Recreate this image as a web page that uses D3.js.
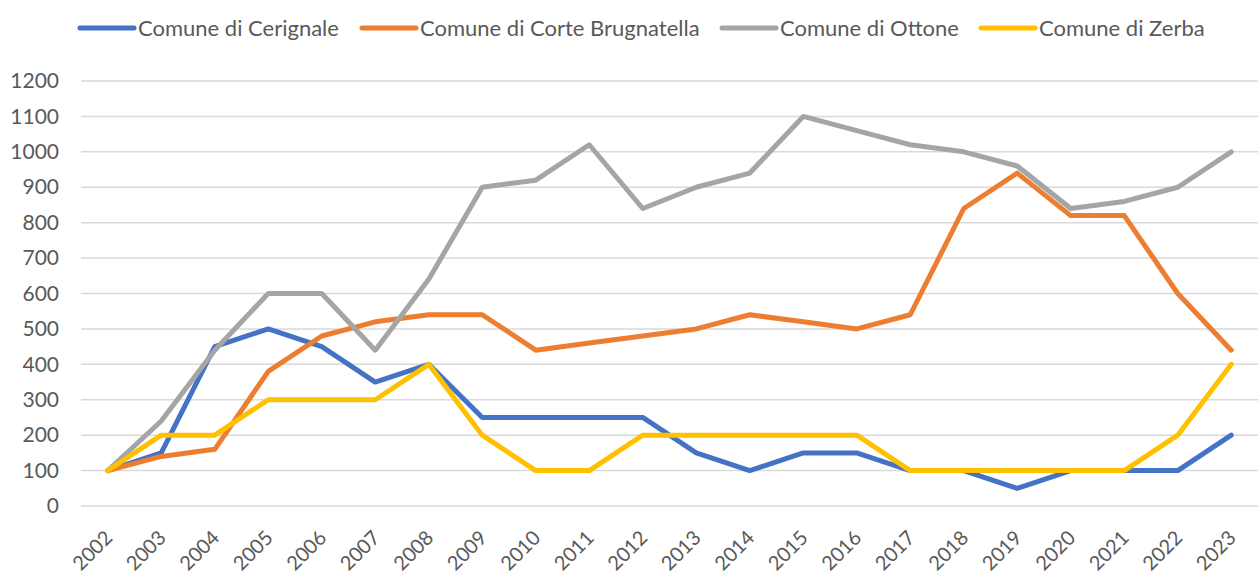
<!DOCTYPE html>
<html><head><meta charset="utf-8">
<script src="https://cdn.jsdelivr.net/npm/d3@7"></script>
<style>body{margin:0;background:#fff}svg{display:block}text{font-family:Lato,"Open Sans",sans-serif;fill:#595959}</style>
</head><body><svg id="c" width="1258" height="587"></svg>
<script>
const years = ["2002","2003","2004","2005","2006","2007","2008","2009","2010","2011","2012","2013","2014","2015","2016","2017","2018","2019","2020","2021","2022","2023"];
const seriesNames = ["Comune di Cerignale","Comune di Corte Brugnatella","Comune di Ottone","Comune di Zerba"];
const cerignale = [100,150,450,500,450,350,400,250,250,250,250,150,100,150,150,100,100,50,100,100,100,200];
const corteBrugnatella = [100,140,160,380,480,520,540,540,440,460,480,500,540,520,500,540,840,940,820,820,600,440];
const ottone = [100,240,440,600,600,440,640,900,920,1020,840,900,940,1100,1060,1020,1000,960,840,860,900,1000];
const zerba = [100,200,200,300,300,300,400,200,100,100,200,200,200,200,200,100,100,100,100,100,200,400];
const yTicks = [0,100,200,300,400,500,600,700,800,900,1000,1100,1200];
const colors = ["#4472C4","#ED7D31","#A5A5A5","#FFC000"];
const allSeries = [cerignale, corteBrugnatella, ottone, zerba];

(function(){
const svg = d3.select("#c");
const pL = 81, pR = 1258, pT = 81, pB = 506;
const x = d3.scaleBand().domain(years).range([pL, pR]);
const y = d3.scaleLinear().domain([0,1200]).range([pB, pT]);

svg.append("g").selectAll("line").data(yTicks).join("line")
  .attr("x1", pL).attr("x2", pR)
  .attr("y1", d => y(d)).attr("y2", d => y(d))
  .attr("stroke", "#d9d9d9").attr("stroke-width", 1.5);

const yAxis = d3.axisLeft(y).tickValues(yTicks).tickFormat(d3.format("d")).tickSize(0).tickPadding(0);
const ga = svg.append("g").attr("transform", `translate(${pL-22},0)`).call(yAxis);
ga.select(".domain").remove();
ga.selectAll("text").attr("font-size", 21).attr("fill","#595959").style("font-family","Lato,sans-serif");

const xAxis = d3.axisBottom(x).tickSize(0).tickPadding(0);
const gx = svg.append("g").attr("transform", `translate(0,${pB})`).call(xAxis);
gx.select(".domain").remove();
gx.selectAll("text").attr("font-size", 20).attr("fill","#595959").style("font-family","Lato,sans-serif")
  .attr("text-anchor","end").attr("dy", null).attr("y", 0)
  .attr("transform", "translate(6,33) rotate(-45)");

const line = d3.line().x((d,i) => x(years[i]) + x.bandwidth()/2).y(d => y(d));
svg.append("g").selectAll("path").data(allSeries).join("path")
  .attr("d", line).attr("fill","none")
  .attr("stroke", (d,i) => colors[i]).attr("stroke-width", 5)
  .attr("stroke-linejoin","round").attr("stroke-linecap","round");

const legX = [80, 362, 722, 981];
const lg = svg.append("g");
seriesNames.forEach((n,i) => {
  lg.append("line").attr("x1", legX[i]).attr("x2", legX[i]+54).attr("y1", 28).attr("y2", 28)
    .attr("stroke", colors[i]).attr("stroke-width", 5).attr("stroke-linecap","round");
  lg.append("text").attr("x", legX[i]+58).attr("y", 28).attr("dy","0.35em")
    .attr("font-size", 22).text(n);
});
})();
</script></body></html>
